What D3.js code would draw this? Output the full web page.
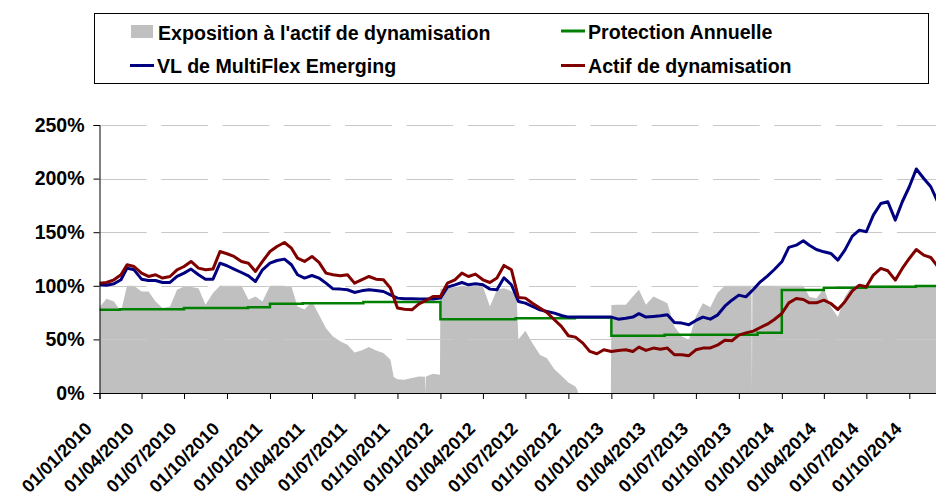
<!DOCTYPE html>
<html>
<head>
<meta charset="utf-8">
<script src="https://cdn.jsdelivr.net/npm/d3@7"></script>
<style>
  body { margin: 0; background: #fff; }
  svg { display: block; }
</style>
</head>
<body>
<script>
//sample dates (1st and 16th of each month) for the two lines
const sampleDates = [
  '2010-01-01','2010-01-16','2010-02-01','2010-02-16','2010-03-01','2010-03-16','2010-04-01','2010-04-16','2010-05-01','2010-05-16','2010-06-01','2010-06-16',
  '2010-07-01','2010-07-16','2010-08-01','2010-08-16','2010-09-01','2010-09-16','2010-10-01','2010-10-16','2010-11-01','2010-11-16','2010-12-01','2010-12-16',
  '2011-01-01','2011-01-16','2011-02-01','2011-02-16','2011-03-01','2011-03-16','2011-04-01','2011-04-16','2011-05-01','2011-05-16','2011-06-01','2011-06-16',
  '2011-07-01','2011-07-16','2011-08-01','2011-08-16','2011-09-01','2011-09-16','2011-10-01','2011-10-16','2011-11-01','2011-11-16','2011-12-01','2011-12-16',
  '2012-01-01','2012-01-16','2012-02-01','2012-02-16','2012-03-01','2012-03-16','2012-04-01','2012-04-16','2012-05-01','2012-05-16','2012-06-01','2012-06-16',
  '2012-07-01','2012-07-16','2012-08-01','2012-08-16','2012-09-01','2012-09-16','2012-10-01','2012-10-16','2012-11-01','2012-11-16','2012-12-01','2012-12-16',
  '2013-01-01','2013-01-16','2013-02-01','2013-02-16','2013-03-01','2013-03-16','2013-04-01','2013-04-16','2013-05-01','2013-05-16','2013-06-01','2013-06-16',
  '2013-07-01','2013-07-16','2013-08-01','2013-08-16','2013-09-01','2013-09-16','2013-10-01','2013-10-16','2013-11-01','2013-11-16','2013-12-01','2013-12-16',
  '2014-01-01','2014-01-16','2014-02-01','2014-02-16','2014-03-01','2014-03-16','2014-04-01','2014-04-16','2014-05-01','2014-05-16','2014-06-01','2014-06-16',
  '2014-07-01','2014-07-16','2014-08-01','2014-08-16','2014-09-01','2014-09-16','2014-10-01','2014-10-16','2014-11-01','2014-11-16','2014-12-01'
];

//VL de MultiFlex Emerging (%)
const vlValues = [
  100.9,100.6,101.9,105.6,116.5,114.9,106.2,105,105,103.1,103.1,108.7,111.8,115.6,110.3,106.2,106.2,121.1,118.7,115.6,112.4,109.3,104,114.9,
  121.1,123.6,124.9,119.6,110.3,107.2,109.6,107.2,102.5,97.2,96.9,96.3,93.8,95.3,96.3,95.6,94.7,91.6,88.5,87.9,87.9,87.6,87.6,87.6,
  88.5,98.8,100.9,103.1,100.9,101.9,100.9,96.9,96.3,107.5,101,85.4,83.8,80.7,77.6,76.1,74.5,72.3,70.8,70.8,70.8,70.8,70.8,70.8,
  70.8,68.9,69.8,70.8,74,70.8,71.4,72,72.9,65.8,65.2,63.6,67.7,70.8,68.9,72.6,81,86.6,91.3,89.7,96.6,103.7,109,115.2,
  122.4,135.8,137.9,142,137.9,133.9,131.7,130.2,124,133.3,146.3,151.9,150.4,165.9,176.8,178.4,161.3,178.4,192.4,209,200.1,192.4,178
];

//Actif de dynamisation (%)
const actifValues = [
  102.5,103.1,105.6,110.3,119.6,118,111.8,108.7,110.3,107.2,108.7,114.9,118,122.7,116.5,114.9,115.6,132,129.9,127.4,122.7,121.1,113.4,122.7,
  132,136.7,140.4,135.1,125.8,122.7,127.4,121.8,111.8,110.3,109.3,110.3,102.5,105.6,108.7,106.2,105.6,97.8,79.2,78.2,77.6,83.2,86.3,90,
  90,102.5,105.6,111.8,108.7,110.9,105.6,103.1,107.2,119,115,89,88.5,83.8,79.2,75.1,68.3,62.1,53.4,52.1,46.5,38.8,36.6,40.3,
  38.7,39.7,40.3,38.7,42.8,39.7,41.9,40.9,41.9,35.7,35.7,34.8,40.3,41.9,42,44.6,49.3,48.7,54,56.1,57.7,61.1,64.2,68.6,
  74.2,84.1,88.2,87.2,84.1,84.1,86.6,83.5,77.9,85.1,95.3,100.6,99.1,110,116.2,114,105.3,116.2,125.5,133.9,128.6,126.4,118
];

//Protection Annuelle: value from each date until the next one
const protectionDates = [
  '2010-01-01','2010-02-14','2010-07-01','2010-11-15','2011-01-01','2011-03-12','2011-07-20','2012-01-01','2012-06-10',
  '2012-10-15','2013-01-01','2013-04-25','2013-11-10','2014-01-01','2014-04-01','2014-07-01','2014-10-15','2014-12-01'
];
const protectionValues = [
  77.6,78.2,79.2,80.1,83.2,83.8,84.8,68.9,69.8,
  70.4,53.4,54.4,56.1,96,98.1,99,99.7,99.7
];

//Exposition à l'actif de dynamisation (%)
const expoDates = [
  '2010-01-01','2010-01-16','2010-02-01','2010-02-16','2010-03-01','2010-03-16','2010-04-01','2010-04-16','2010-05-01','2010-05-16','2010-06-01','2010-06-16',
  '2010-07-01','2010-07-16','2010-08-01','2010-08-16','2010-09-01','2010-09-16','2010-10-01','2010-10-16','2010-11-01','2010-11-16','2010-12-01','2010-12-16',
  '2011-01-01','2011-01-16','2011-02-01','2011-02-16','2011-03-01','2011-03-16','2011-04-01','2011-04-16','2011-05-01','2011-05-16','2011-06-01','2011-06-16',
  '2011-07-01','2011-07-16','2011-08-01','2011-08-16','2011-09-01','2011-09-16','2011-09-23','2011-10-01','2011-10-16','2011-11-01','2011-11-16','2011-11-29',
  '2011-11-30','2011-12-01','2011-12-16','2011-12-31',
  '2012-01-01','2012-01-16','2012-02-01','2012-02-16','2012-03-01','2012-03-16','2012-04-01','2012-04-16','2012-05-01','2012-05-16','2012-06-01','2012-06-12',
  '2012-06-16','2012-07-01','2012-07-16','2012-08-01','2012-08-16','2012-09-01','2012-09-16','2012-10-01','2012-10-16','2012-10-20','2012-10-22','2012-12-31',
  '2013-01-01','2013-01-16','2013-02-01','2013-02-16','2013-03-01','2013-03-16','2013-04-01','2013-04-16','2013-05-01','2013-05-16','2013-06-01','2013-06-16',
  '2013-07-01','2013-07-16','2013-08-01','2013-08-16','2013-09-01','2013-10-28','2013-10-29','2013-10-30','2014-02-16',
  '2014-03-01','2014-03-16','2014-04-01','2014-04-16','2014-05-01','2014-05-16','2014-06-01','2014-12-01'
];
const expoValues = [
  80,88,85.4,76,100,100,94.7,94.7,85.4,79.2,80.7,96.3,
  99.4,98.8,97.8,82.3,93.2,100,100,100,100,86.9,90,85.4,
  100,100,100,99.4,80.7,78,85.4,73,60.5,52.7,48.1,45,
  37.8,39.7,42.8,39.7,37.2,31,15,12.9,12.3,13.9,15.4,15.2,
  0,15.4,17.9,17,
  97,97.8,98.8,100,99.4,98.8,99.4,80.7,96.3,97.8,95,92,
  50,58,46.5,35.7,32.5,22.2,16,9.8,6,3,0,0,
  82,82.3,82.3,90,96.3,82.3,90,86.9,83.8,62,52.7,49.6,
  71.4,83.8,80,93.2,100,100,0,100,100,
  89.7,88.2,97.5,80.4,71,89.7,100,100
];

//axis ticks
const yTicks = [0, 50, 100, 150, 200, 250];
const xTickLabels = [
  '01/01/2010','01/04/2010','01/07/2010','01/10/2010','01/01/2011','01/04/2011','01/07/2011','01/10/2011',
  '01/01/2012','01/04/2012','01/07/2012','01/10/2012','01/01/2013','01/04/2013','01/07/2013','01/10/2013',
  '01/01/2014','01/04/2014','01/07/2014','01/10/2014'
];

const parseDate = d3.timeParse('%Y-%m-%d');
const parseTick = d3.timeParse('%d/%m/%Y');

const lineData = sampleDates.map((d, i) => ({date: parseDate(d), vl: vlValues[i], actif: actifValues[i]}));
const protectionData = protectionDates.map((d, i) => ({date: parseDate(d), value: protectionValues[i]}));
const expoData = expoDates.map((d, i) => ({date: parseDate(d), value: expoValues[i]}));

const width = 936;
const height = 497;
const font = `'Liberation Sans', Arial, sans-serif`;

const root_svg = d3.select('body')
  .append('svg')
  .attr('width', width)
  .attr('height', height)
  .style('font-family', font)
  .style('font-weight', 'bold');

//plot area (runs past the right edge of the picture)
const plot = {left: 99.5, top: 125, bottom: 393, right: 937.8};

const x = d3.scaleTime()
  .domain([parseDate('2010-01-01'), parseDate('2014-12-01')])
  .range([plot.left, plot.right]);

const y = d3.scaleLinear()
  .domain([0, 250])
  .range([plot.bottom, plot.top]);

root_svg.append('defs')
  .append('clipPath')
  .attr('id', 'plotClip')
  .append('rect')
  .attr('x', plot.left)
  .attr('y', 0)
  .attr('width', width - plot.left)
  .attr('height', plot.bottom);

const chart_g = root_svg.append('g')
  .attr('clip-path', 'url(#plotClip)');

//exposure area
chart_g.append('path')
  .datum(expoData)
  .attr('d', d3.area()
    .x(d => x(d.date))
    .y0(y(0))
    .y1(d => y(d.value)))
  .style('fill', '#c0c0c0');

//dashed gridlines
chart_g.selectAll('.grid')
  .data(yTicks.filter(d => d > 0))
  .enter()
  .append('line')
  .attr('class', 'grid')
  .attr('x1', plot.left + 0.5)
  .attr('x2', width)
  .attr('y1', d => Math.round(y(d)) + 0.5)
  .attr('y2', d => Math.round(y(d)) + 0.5)
  .style('stroke', '#c8c8c8')
  .style('stroke-width', 1)
  .style('stroke-dasharray', '46.7,14.6');

//protection (step line)
chart_g.append('path')
  .datum(protectionData)
  .attr('d', d3.line()
    .x(d => x(d.date))
    .y(d => y(d.value))
    .curve(d3.curveStepAfter))
  .style('fill', 'none')
  .style('stroke', '#008000')
  .style('stroke-width', 2.5);

//VL line
chart_g.append('path')
  .datum(lineData)
  .attr('d', d3.line()
    .x(d => x(d.date))
    .y(d => y(d.vl)))
  .style('fill', 'none')
  .style('stroke', '#000080')
  .style('stroke-width', 3)
  .style('stroke-linejoin', 'round');

//Actif line
chart_g.append('path')
  .datum(lineData)
  .attr('d', d3.line()
    .x(d => x(d.date))
    .y(d => y(d.actif)))
  .style('fill', 'none')
  .style('stroke', '#800000')
  .style('stroke-width', 3)
  .style('stroke-linejoin', 'round');

//y axis
const yAxis = root_svg.append('g')
  .attr('transform', `translate(${plot.left},0)`)
  .call(d3.axisLeft(y).tickValues(yTicks).tickFormat(d => d + '%').tickSize(6).tickPadding(9))
  .style('font-family', font);

yAxis.select('.domain').style('stroke', '#000');
yAxis.selectAll('.tick line').style('stroke', '#000');
yAxis.selectAll('text')
  .style('font-size', '19.5px')
  .style('font-weight', 'bold')
  .style('fill', '#000');

//x axis
const xAxis = root_svg.append('g')
  .attr('transform', `translate(0,${plot.bottom})`)
  .call(d3.axisBottom(x).tickValues(xTickLabels.map(parseTick)).tickFormat(d3.timeFormat('%d/%m/%Y')).tickSize(6))
  .style('font-family', font);

xAxis.select('.domain').style('stroke', '#000');
xAxis.selectAll('.tick line').style('stroke', '#000');
xAxis.selectAll('text')
  .attr('x', 0)
  .attr('y', 0)
  .attr('dy', 0)
  .attr('transform', 'translate(-7,37) rotate(-45)')
  .attr('text-anchor', 'end')
  .style('font-size', '18px')
  .style('font-weight', 'bold')
  .style('fill', '#000');

//legend
const legend_g = root_svg.append('g').attr('id', 'legend');

legend_g.append('rect')
  .attr('x', 94.5)
  .attr('y', 13.5)
  .attr('width', 834)
  .attr('height', 70)
  .style('fill', '#fff')
  .style('stroke', '#000')
  .style('stroke-width', 1);

const legendItems = [
  {label: "Exposition à l'actif de dynamisation", color: '#c0c0c0', type: 'box', x: 131, y: 32},
  {label: 'Protection Annuelle', color: '#008000', type: 'line', x: 561, y: 31},
  {label: 'VL de MultiFlex Emerging', color: '#000080', type: 'line', x: 130, y: 65.5},
  {label: 'Actif de dynamisation', color: '#800000', type: 'line', x: 561, y: 65.5}
];

legendItems.forEach(item => {
  if (item.type === 'box') {
    legend_g.append('rect')
      .attr('x', item.x)
      .attr('y', item.y - 7)
      .attr('width', 22)
      .attr('height', 13)
      .style('fill', item.color);
  } else {
    legend_g.append('line')
      .attr('x1', item.x)
      .attr('x2', item.x + 24)
      .attr('y1', item.y)
      .attr('y2', item.y)
      .style('stroke', item.color)
      .style('stroke-width', 3);
  }
  legend_g.append('text')
    .text(item.label)
    .attr('x', item.x + 27)
    .attr('y', item.y + 7.5)
    .style('font-size', '19.6px')
    .style('fill', '#000');
});
</script>
</body>
</html>
